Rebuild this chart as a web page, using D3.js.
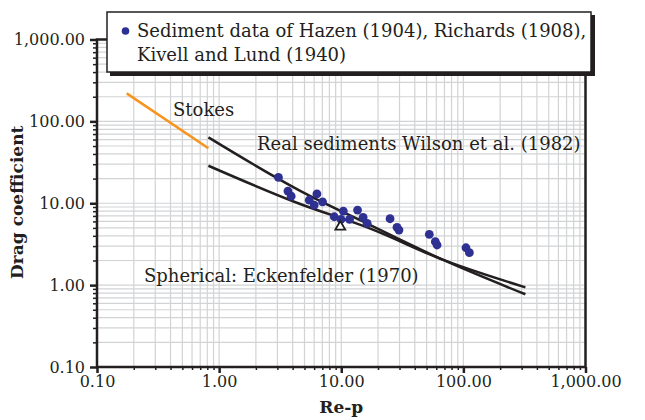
<!DOCTYPE html>
<html>
<head>
<meta charset="utf-8">
<script src="https://cdn.jsdelivr.net/npm/d3@7"></script>
<style>
  html, body { margin: 0; padding: 0; background: #fff; }
  svg { display: block; }
  text { font-family: "DejaVu Serif", "Liberation Serif", serif; fill: #231f20; }
</style>
</head>
<body>
<svg id="chart" width="645" height="420"></svg>
<script>
// ---------- data ----------
const sedimentRe = [3.06, 3.66, 3.89, 6.32, 5.47, 6.01, 7.03, 10.4, 8.77, 9.95, 11.7, 13.6, 15.1, 16.3, 25.1, 28.6, 29.7, 52.6, 58.9, 60.9, 105, 112];
const sedimentCd = [20.7, 14.1, 12.2, 13.0, 10.9, 9.51, 10.4, 8.03, 6.84, 6.36, 6.36, 8.26, 6.73, 5.69, 6.47, 5.08, 4.71, 4.17, 3.39, 3.09, 2.86, 2.49];
const triangleRe = [9.82];
const triangleCd = [5.17];
const stokesRe = [0.175, 0.817];
const stokesCd = [220, 47];
const wilsonRe = [0.817, 4.61, 17.3, 68.5, 322];
const wilsonCd = [63.8, 14.2, 5.42, 2.03, 0.773];
const eckRe = [0.817, 4.61, 17.3, 68.5, 322];
const eckCd = [28.7, 9.78, 4.9, 2.03, 0.94];
const majorTicks = [0.1, 1, 10, 100, 1000];
const legendLines = ["Sediment data of Hazen (1904), Richards (1908),", "Kivell and Lund (1940)"];
const xTitle = "Re-p";
const yTitle = "Drag coefficient";
const labelStokes = "Stokes";
const labelWilson = "Real sediments Wilson et al. (1982)";
const labelEck = "Spherical: Eckenfelder (1970)";

// ---------- layout ----------
const L = 97, R = 585.5, T = 39.5, B = 367;
const svg = d3.select("#chart");
const x = d3.scaleLog().domain([0.1, 1000]).range([L, R]);
const y = d3.scaleLog().domain([0.1, 1000]).range([B, T]);
const fmt = d3.format(",.2f");

const minorTicks = [];
for (let k = -1; k <= 2; k++) for (let m = 2; m <= 9; m++) minorTicks.push(m * Math.pow(10, k));

// grid
const grid = svg.append("g").attr("stroke", "#d2d3d5").attr("stroke-width", 1.2);
grid.selectAll("line.gx").data(minorTicks.concat(majorTicks)).join("line")
  .attr("x1", d => x(d)).attr("x2", d => x(d)).attr("y1", T).attr("y2", B);
grid.selectAll("line.gy").data(minorTicks.concat(majorTicks)).join("line")
  .attr("class", "gy")
  .attr("y1", d => y(d)).attr("y2", d => y(d)).attr("x1", L).attr("x2", R);

// axes (ticks)
const xMinor = svg.append("g").attr("transform", `translate(0,${B})`)
  .call(d3.axisBottom(x).tickValues(minorTicks).tickSize(3).tickFormat(""));
const xMajor = svg.append("g").attr("transform", `translate(0,${B})`)
  .call(d3.axisBottom(x).tickValues(majorTicks).tickSize(6).tickPadding(3).tickFormat(fmt));
const yMinor = svg.append("g").attr("transform", `translate(${L},0)`)
  .call(d3.axisLeft(y).tickValues(minorTicks).tickSize(4).tickFormat(""));
const yMajor = svg.append("g").attr("transform", `translate(${L},0)`)
  .call(d3.axisLeft(y).tickValues(majorTicks).tickSize(7).tickPadding(5).tickFormat(fmt));
[xMinor, xMajor, yMinor, yMajor].forEach(g => {
  g.select(".domain").remove();
  g.selectAll(".tick line").attr("stroke", "#231f20").attr("stroke-width", 1.5);
  g.selectAll(".tick text").attr("font-size", 16).attr("font-family", "DejaVu Serif").attr("fill", "#231f20");
});
xMajor.selectAll(".tick line").attr("stroke-width", 2.5);
yMajor.selectAll(".tick line").attr("stroke-width", 2.5);

// frame
svg.append("rect").attr("x", L).attr("y", T).attr("width", R - L).attr("height", B - T)
  .attr("fill", "none").attr("stroke", "#231f20").attr("stroke-width", 2.5);

// lines
const line = d3.line().x(d => x(d[0])).y(d => y(d[1])).curve(d3.curveMonotoneX);
svg.append("path").datum(stokesRe.map((r, i) => [r, stokesCd[i]]))
  .attr("d", line).attr("fill", "none").attr("stroke", "#f7941d").attr("stroke-width", 2.5);
svg.append("path").datum(wilsonRe.map((r, i) => [r, wilsonCd[i]]))
  .attr("d", line).attr("fill", "none").attr("stroke", "#231f20").attr("stroke-width", 2.5);
svg.append("path").datum(eckRe.map((r, i) => [r, eckCd[i]]))
  .attr("d", line).attr("fill", "none").attr("stroke", "#231f20").attr("stroke-width", 2.5);

// points
svg.append("g").selectAll("circle").data(sedimentRe.map((r, i) => [r, sedimentCd[i]])).join("circle")
  .attr("cx", d => x(d[0])).attr("cy", d => y(d[1])).attr("r", 4.4).attr("fill", "#2e3192");
const tri = d3.symbol().type(d3.symbolTriangle).size(42);
svg.append("g").selectAll("path").data(triangleRe.map((r, i) => [r, triangleCd[i]])).join("path")
  .attr("transform", d => `translate(${x(d[0])},${y(d[1])})`)
  .attr("d", tri).attr("fill", "#fff").attr("stroke", "#231f20").attr("stroke-width", 1.8);

// line labels
svg.append("text").attr("x", 173).attr("y", 115.5).attr("font-size", 18).text(labelStokes);
svg.append("text").attr("x", 257).attr("y", 150).attr("font-size", 18).text(labelWilson);
svg.append("text").attr("x", 144).attr("y", 281.5).attr("font-size", 18).text(labelEck);

// legend
svg.append("rect").attr("x", 110).attr("y", 15).attr("width", 485).attr("height", 61).attr("fill", "#231f20");
svg.append("rect").attr("x", 107).attr("y", 12).attr("width", 484).attr("height", 60)
  .attr("fill", "#fff").attr("stroke", "#231f20").attr("stroke-width", 1.5);
svg.append("circle").attr("cx", 125.5).attr("cy", 31).attr("r", 3.8).attr("fill", "#2e3192");
svg.append("text").attr("x", 137).attr("y", 37).attr("font-size", 18).text(legendLines[0]);
svg.append("text").attr("x", 137).attr("y", 61).attr("font-size", 18).text(legendLines[1]);

// axis titles
svg.append("text").attr("x", (L + R) / 2 + 0).attr("y", 413).attr("text-anchor", "middle")
  .attr("font-size", 17).attr("font-weight", "bold").text(xTitle);
svg.append("text").attr("transform", `translate(23,${(T + B) / 2 - 1}) rotate(-90)`)
  .attr("text-anchor", "middle").attr("font-size", 17).attr("font-weight", "bold").text(yTitle);
</script>
</body>
</html>
